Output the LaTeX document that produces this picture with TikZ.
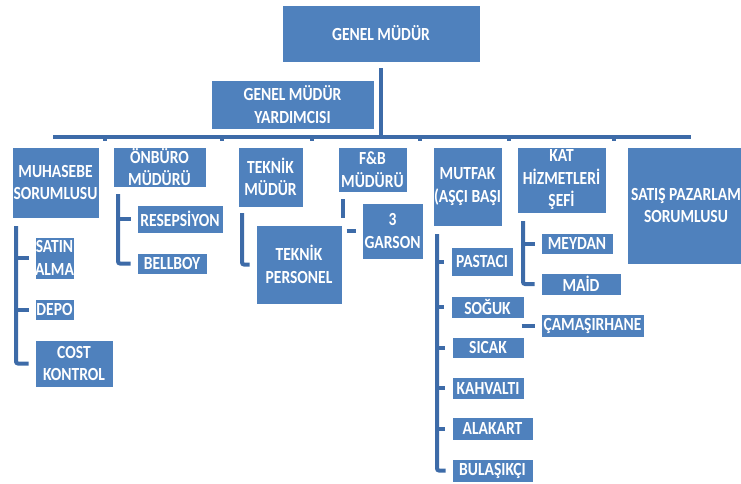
\documentclass[tikz,border=0pt]{standalone}
\usepackage{fontspec}
\setmainfont{Carlito}[FakeStretch=0.84]
\definecolor{boxblue}{RGB}{79,129,189}
\definecolor{connblue}{RGB}{61,107,168}
\begin{document}
\begin{tikzpicture}[x=1pt,y=-1pt,
  box/.style={draw=white, line width=0.8pt, fill=boxblue, text=white, align=center, inner sep=0pt,
    font=\bfseries\fontsize{18.5}{22.5}\selectfont},
  conn/.style={draw=connblue, line width=4pt, rounded corners=2pt}]
\useasboundingbox (0,0) rectangle (741,484);
% top
\node[box, minimum width=198, minimum height=57] (gm)  at (381,33.5)  {GENEL MÜDÜR};
\node[box, minimum width=163, minimum height=49] (gmy) at (292.5,104.5) {GENEL MÜDÜR\\YARDIMCISI};
% second row
\node[box, minimum width=87,  minimum height=71]  (muh) at (55.5,182.5) {MUHASEBE\\SORUMLUSU};
\node[box, minimum width=93,  minimum height=40]  (onb) at (159.5,167)  {ÖNBÜRO\\MÜDÜRÜ};
\node[box, minimum width=65,  minimum height=60]  (tek) at (270.5,177)  {TEKNİK\\MÜDÜR};
\node[box, minimum width=69,  minimum height=45]  (fb)  at (372.5,169.5) {F\&B\\MÜDÜRÜ};
\node[box, minimum width=69,  minimum height=79]  (mut) at (467.5,186.5) {MUTFAK\\(AŞÇI BAŞI};
\node[box, minimum width=89,  minimum height=66]  (kat) at (561.5,180)  {KAT\\HİZMETLERİ\\ŞEFİ};
\node[box, minimum width=118, minimum height=117] (sat) at (686,205.5)  {SATIŞ PAZARLAM\\SORUMLUSU};
% children
\node[box, minimum width=39,  minimum height=42] (satin) at (54.5,258)   {SATIN\\ALMA};
\node[box, minimum width=39,  minimum height=21] (depo)  at (54.5,309.5) {DEPO};
\node[box, minimum width=78,  minimum height=47] (cost)  at (74,363.5)   {COST\\KONTROL};
\node[box, minimum width=86,  minimum height=28] (res)   at (180,219)    {RESEPSİYON};
\node[box, minimum width=70,  minimum height=21] (bell)  at (172,263.5)  {BELLBOY};
\node[box, minimum width=86,  minimum height=79] (tper)  at (299,264.5)  {TEKNİK\\PERSONEL};
\node[box, minimum width=61,  minimum height=56] (gar)   at (392.5,231)  {3\\GARSON};
\node[box, minimum width=62,  minimum height=29] (past)  at (482,261.5)  {PASTACI};
\node[box, minimum width=73,  minimum height=22] (sog)   at (487.5,307)  {SOĞUK};
\node[box, minimum width=72,  minimum height=21] (sic)   at (488,347.5)  {SICAK};
\node[box, minimum width=72,  minimum height=22] (kah)   at (488,388)    {KAHVALTI};
\node[box, minimum width=81,  minimum height=23] (ala)   at (492.5,428.5) {ALAKART};
\node[box, minimum width=81,  minimum height=23] (bul)   at (492.5,470.5) {BULAŞIKÇI};
\node[box, minimum width=72,  minimum height=21] (mey)   at (577,243.5)  {MEYDAN};
\node[box, minimum width=80,  minimum height=22] (maid)  at (581,284)    {MAİD};
\node[box, minimum width=103, minimum height=23] (cam)   at (592.5,325.5) {ÇAMAŞIRHANE};
% bar
\coordinate (barL) at (53,137);
\coordinate (barR) at (691,137);
\draw[conn] (barL) -- (barR);
\draw[conn] ([yshift=-6]gm.south) -- (gm.south |- barL);
\foreach \x in {105,222,312,420,509,614} \draw[conn] (\x,137) -- (\x,141);
% brackets
\coordinate (muhB) at (16,226);
\coordinate (onbB) at (118,194);
\coordinate (tekB) at (242,213);
\coordinate (fbB)  at (343,199);
\coordinate (mutB) at (437,234);
\coordinate (katB) at (523,221);
\draw[conn] (muhB) |- ([xshift=-6]cost.west);
\foreach \n in {satin,depo} \draw[conn] (muhB |- \n.west) -- ([xshift=-6]\n.west);
\draw[conn] (onbB) |- ([xshift=-6]bell.west);
\draw[conn] (onbB |- res.west) -- ([xshift=-6]res.west);
\draw[conn] (tekB) |- ([xshift=-6]tper.west);
\draw[conn] (fbB) -- ++(0,19);
\draw[conn] ([xshift=-15]gar.west) -- ([xshift=-6]gar.west);
\draw[conn] (mutB) |- ([xshift=-6]bul.west);
\foreach \n in {past,sog,sic,kah,ala} \draw[conn] (mutB |- \n.west) -- ([xshift=-7]\n.west);
\draw[conn] (katB) |- ([xshift=-6]maid.west);
\draw[conn] (katB |- mey.west) -- ([xshift=-6]mey.west);
\draw[conn] ([xshift=-19]cam.west) -- ([xshift=-6]cam.west);
\end{tikzpicture}
\end{document}
